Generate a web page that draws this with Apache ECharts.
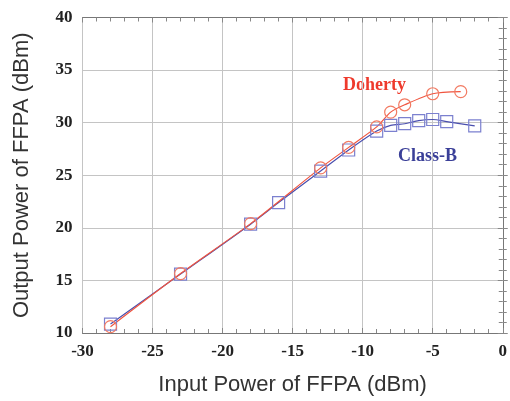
<!DOCTYPE html>
<html>
<head>
<meta charset="utf-8">
<script src="https://cdn.jsdelivr.net/npm/echarts@6/dist/echarts.min.js"></script>
<style>
  html, body { margin: 0; padding: 0; background: #fff; }
  #chart { width: 510px; height: 401px; }
</style>
</head>
<body>
<div id="chart"></div>
<script>
// values (input dBm, output dBm)
const classBIn  = [-28, -23, -18, -16, -13, -11, -9, -8, -7, -6, -5, -4, -2];
const classBOut = [10.85, 15.6, 20.35, 22.4, 25.4, 27.4, 29.2, 29.75, 29.9, 30.2, 30.3, 30.1, 29.7];
const dohertyIn  = [-28, -23, -18, -13, -11, -9, -8, -7, -5, -3];
const dohertyOut = [10.6, 15.65, 20.4, 25.7, 27.65, 29.6, 31.0, 31.7, 32.75, 32.95];

const xTicks = [-30, -25, -20, -15, -10, -5, 0];
const yTicks = [10, 15, 20, 25, 30, 35, 40];

const RED = '#f0553f';
const BLUE = '#4a4fae';
const tickFont = { fontFamily: 'Liberation Serif', fontWeight: 'bold', fontSize: 17, color: '#222' };
const titleFont = { fontFamily: 'Liberation Sans', fontSize: 22, color: '#333' };

function zip(a, b) { return a.map((v, i) => [v, b[i]]); }

const chart = echarts.init(document.getElementById('chart'));

// shared look for all four frame sides: inward ticks every 1 unit
function frame(grid) {
  return {
    axisLine: { show: true, lineStyle: { color: '#777', width: 1 } },
    axisTick: { show: true, inside: true, length: 5, lineStyle: { color: '#888' } },
    minorTick: { show: true, splitNumber: 5, length: 4, lineStyle: { color: '#888' } },
    splitLine: { show: grid, lineStyle: { color: '#c4c4c4', width: 1 } }
  };
}

const option = {
  animation: false,
  backgroundColor: '#fff',
  grid: { left: 82.5, right: 3, top: 17.5, bottom: 66.5, containLabel: false },
  xAxis: [
    Object.assign({
      type: 'value', min: -30, max: 0, interval: 5, position: 'bottom',
      name: 'Input Power of FFPA (dBm)', nameLocation: 'middle', nameGap: 41,
      nameTextStyle: titleFont,
      axisLabel: Object.assign({ margin: 10, formatter: v => xTicks.includes(v) ? String(v) : '' }, tickFont)
    }, frame(true)),
    Object.assign({
      type: 'value', min: -30, max: 0, interval: 5, position: 'top',
      axisLabel: { show: false }
    }, frame(false))
  ],
  yAxis: [
    Object.assign({
      type: 'value', min: 10, max: 40, interval: 5, position: 'left',
      name: 'Output Power of FFPA (dBm)', nameLocation: 'middle', nameGap: 50,
      nameTextStyle: titleFont,
      axisLabel: Object.assign({ margin: 10, formatter: v => yTicks.includes(v) ? String(v) : '' }, tickFont)
    }, frame(true)),
    Object.assign({
      type: 'value', min: 10, max: 40, interval: 5, position: 'right',
      axisLabel: { show: false }
    }, frame(false))
  ],
  series: [
    {
      name: 'Class-B', type: 'line', smooth: 0.25,
      data: zip(classBIn, classBOut),
      symbol: 'rect', symbolSize: 12,
      lineStyle: { color: BLUE, width: 1.2 },
      itemStyle: { color: 'rgba(0,0,0,0)', borderWidth: 1.2, borderColor: '#7b80cf' }
    },
    {
      name: 'Doherty', type: 'line', smooth: 0.25,
      data: zip(dohertyIn, dohertyOut),
      symbol: 'circle', symbolSize: 12,
      lineStyle: { color: RED, width: 1.2 },
      itemStyle: { color: 'rgba(0,0,0,0)', borderWidth: 1.2, borderColor: '#f27a62' }
    }
  ],
  graphic: [
    { type: 'text', left: 343, top: 76,
      style: { text: 'Doherty', fill: '#ee3a2c', font: 'bold 18px "Liberation Serif"' } },
    { type: 'text', left: 398, top: 147,
      style: { text: 'Class-B', fill: '#3a3f98', font: 'bold 18px "Liberation Serif"' } }
  ]
};

chart.setOption(option);
</script>
</body>
</html>
